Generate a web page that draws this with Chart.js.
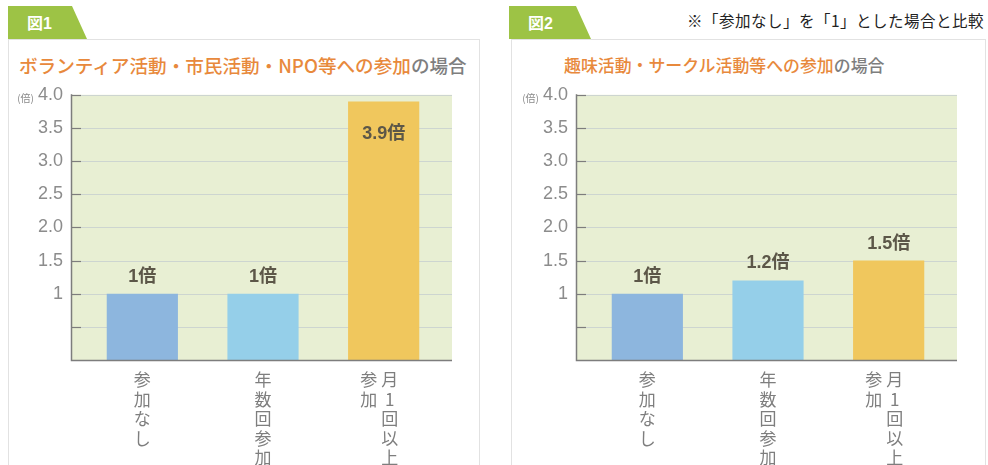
<!DOCTYPE html>
<html lang="ja">
<head>
<meta charset="utf-8">
<script src="https://cdn.jsdelivr.net/npm/chart.js@4.4.1/dist/chart.umd.min.js"></script>
<style>
  html,body{margin:0;padding:0;background:#fff;}
  body{width:988px;height:465px;position:relative;overflow:hidden;font-family:"Noto Sans CJK JP",sans-serif;}
  .box{position:absolute;top:39px;height:440px;border:1px solid #e2e2e2;border-bottom:none;background:#fff;}
  .tab{position:absolute;top:6px;height:33px;background:#9dc345;}
  .tab span{position:absolute;left:19px;top:4px;color:#fff;font:bold 16px "Liberation Sans","Noto Sans CJK JP",sans-serif;}
  .title{position:absolute;white-space:nowrap;color:#e8893c;font-weight:500;}
  .title .g{color:#7e7e7e;}
  .note{position:absolute;left:687px;top:9px;font-size:15.5px;color:#222;white-space:nowrap;font-family:"Noto Sans CJK JP",serif;letter-spacing:0.5px;}
  canvas{position:absolute;top:65px;}
</style>
</head>
<body>
<div class="box" style="left:8px;width:470px;"></div>
<div class="box" style="left:511px;width:473px;"></div>
<div class="tab" style="left:8px;width:79px;clip-path:polygon(0 0,64px 0,79px 100%,0 100%);"><span>図1</span></div>
<div class="tab" style="left:509px;width:82px;clip-path:polygon(0 0,67px 0,82px 100%,0 100%);"><span>図2</span></div>
<div class="note">※「参加なし」を「1」とした場合と比較</div>
<div class="title" id="t1" style="left:19px;top:51px;font-size:18.6px;"><span id="t1a"></span><span class="g">の場合</span></div>
<div class="title" id="t2" style="left:564px;top:52px;font-size:16.9px;"><span id="t2a"></span><span class="g">の場合</span></div>
<canvas id="c1" width="470" height="400" style="left:0px;"></canvas>
<canvas id="c2" width="470" height="400" style="left:505px;"></canvas>
<script>
// ---- data ----
const title1 = 'ボランティア活動・市民活動・NPO等への参加';
const title2 = '趣味活動・サークル活動等への参加';
const categories = ['参加なし', '年数回参加', '月1回以上参加'];
const labelColumns = [['参加なし'], ['年数回参加'], ['月1回以上', '参加']];
const values1 = [1, 1, 3.9];
const values2 = [1, 1.2, 1.5];
const barColors = ['#8db6de', '#95cfe9', '#f0c75d'];
const yTickValues = [0, 0.5, 1, 1.5, 2, 2.5, 3, 3.5, 4];
const yTickLabels = ['', '', '1', '1.5', '2.0', '2.5', '3.0', '3.5', '4.0'];
const unitLabel = '(倍)';
const valueSuffix = '倍';

document.getElementById('t1a').textContent = title1;
document.getElementById('t2a').textContent = title2;

const deco = {
  id: 'deco',
  beforeDatasetsDraw(chart) {
    const {ctx, chartArea: a, scales: {y}} = chart;
    const L = a.left - 11, R = a.right + 8;
    ctx.save();
    ctx.fillStyle = '#e8efd3';
    ctx.fillRect(L, a.top, R - L, a.bottom - a.top);
    yTickValues.forEach(v => {
      if (v === 0) return;
      const py = Math.round(y.getPixelForValue(v)) + 0.5;
      ctx.strokeStyle = '#cdd5d0';
      ctx.lineWidth = 1;
      ctx.beginPath(); ctx.moveTo(L + 10, py); ctx.lineTo(R, py); ctx.stroke();
      ctx.strokeStyle = '#7d7d7d';
      ctx.lineWidth = 1.2;
      ctx.beginPath(); ctx.moveTo(L, py); ctx.lineTo(L + 10, py); ctx.stroke();
    });
    ctx.restore();
  },
  afterDatasetsDraw(chart) {
    const {ctx, chartArea: a, scales: {y}} = chart;
    const L = a.left - 11, R = a.right + 8;
    const vals = chart.data.datasets[0].data;
    ctx.save();
    ctx.strokeStyle = '#7d7d7d';
    ctx.lineWidth = 1.5;
    ctx.beginPath();
    ctx.moveTo(L + 0.5, a.top - 0.5); ctx.lineTo(L + 0.5, a.bottom + 0.5); ctx.lineTo(R, a.bottom + 0.5);
    ctx.stroke();
    const meta = chart.getDatasetMeta(0);
    ctx.fillStyle = '#5c5748';
    ctx.font = 'bold 18px "Liberation Sans","Noto Sans CJK JP",sans-serif';
    ctx.textAlign = 'center';
    ctx.textBaseline = 'middle';
    meta.data.forEach((bar, i) => {
      const txt = String(vals[i]) + valueSuffix;
      const inside = vals[i] / y.max > 0.9;
      ctx.fillText(txt, bar.x, inside ? bar.y + 33 : bar.y - 17);
    });
    ctx.fillStyle = '#7e7e7e';
    ctx.font = '17px "Noto Sans CJK JP",sans-serif';
    meta.data.forEach((bar, i) => {
      const cols = labelColumns[i];
      cols.forEach((col, c) => {
        let cx = bar.x;
        if (cols.length === 2) cx = bar.x + (c === 0 ? 6 : -15);
        Array.from(col).forEach((ch, k) => {
          ctx.fillText(ch, cx, a.bottom + 20 + k * 19.5);
        });
      });
    });
    ctx.fillStyle = '#8a8a8a';
    ctx.font = '10px "Noto Sans CJK JP",sans-serif';
    ctx.textAlign = 'right';
    ctx.fillText(unitLabel, L - 37, a.top + 3);
    ctx.restore();
  }
};

function makeChart(id, values) {
  return new Chart(document.getElementById(id), {
    type: 'bar',
    data: {
      labels: categories,
      datasets: [{data: values, backgroundColor: barColors, borderWidth: 0,
                  barPercentage: 0.59, categoryPercentage: 1}]
    },
    options: {
      responsive: false,
      devicePixelRatio: 1,
      animation: false,
      layout: {padding: {top: 13, bottom: 105, left: 0, right: 26}},
      plugins: {legend: {display: false}, tooltip: {enabled: false}},
      scales: {
        x: {display: false},
        y: {
          min: 0, max: 4,
          afterFit: s => { s.width = 82; },
          afterBuildTicks: s => { s.ticks = yTickValues.map(v => ({value: v})); },
          grid: {display: false, drawTicks: false},
          border: {display: false},
          ticks: {
            padding: 19,
            color: '#8c8c8c',
            font: {family: '"Liberation Sans",sans-serif', size: 18},
            callback: (v) => { const i = yTickValues.indexOf(v); return i >= 0 ? yTickLabels[i] : ''; }
          }
        }
      }
    },
    plugins: [deco]
  });
}
makeChart('c1', values1);
makeChart('c2', values2);
</script>
</body>
</html>
